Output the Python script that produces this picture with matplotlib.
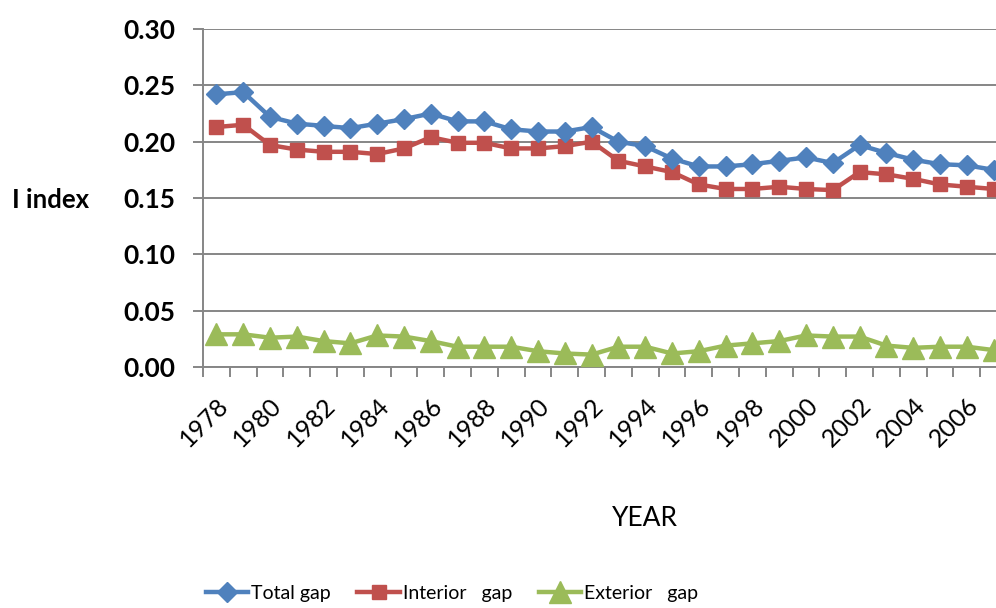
'''Gap index by year: total, interior and exterior gap'''

import numpy as np
import matplotlib
matplotlib.use('Agg')
import matplotlib.pyplot as plt
from matplotlib.ticker import FixedLocator, FormatStrFormatter

years = list(range(1978, 2008))

total_gap = [0.242, 0.244, 0.222, 0.216, 0.214, 0.212, 0.216, 0.220, 0.225, 0.218,
             0.218, 0.211, 0.209, 0.209, 0.213, 0.200, 0.196, 0.185, 0.178, 0.178,
             0.180, 0.183, 0.186, 0.181, 0.197, 0.190, 0.184, 0.180, 0.179, 0.175]

interior_gap = [0.213, 0.215, 0.197, 0.193, 0.191, 0.191, 0.189, 0.194, 0.204, 0.199,
                0.199, 0.194, 0.194, 0.196, 0.200, 0.183, 0.178, 0.173, 0.162, 0.158,
                0.158, 0.160, 0.158, 0.157, 0.173, 0.171, 0.167, 0.162, 0.160, 0.158]

exterior_gap = [0.029, 0.029, 0.026, 0.027, 0.023, 0.021, 0.028, 0.027, 0.023, 0.018,
                0.018, 0.018, 0.014, 0.012, 0.011, 0.018, 0.018, 0.012, 0.014, 0.019,
                0.021, 0.023, 0.028, 0.027, 0.027, 0.019, 0.017, 0.018, 0.018, 0.015]

series_labels = ['Total gap', 'Interior   gap', 'Exterior   gap']

BLUE = '#4F81BD'
RED = '#C0504D'
GREEN = '#9BBB59'
GRAY = '#868686'
FONT = ['Lato', 'DejaVu Sans']

fig = plt.figure(figsize=(9.96, 6.08), dpi=100)
# right edge of the plot area sits just past the picture, as in the source
ax = fig.add_axes([203 / 996, 1 - 367 / 608, 804 / 996, 338 / 608])

x = np.arange(len(years))

h1, = ax.plot(x, total_gap, color=BLUE, lw=3.2, marker='D', ms=10,
              label=series_labels[0], zorder=5, clip_on=False)
h2, = ax.plot(x, interior_gap, color=RED, lw=3.2, marker='s', ms=10.5,
              label=series_labels[1], zorder=4, clip_on=False)
h3, = ax.plot(x, exterior_gap, color=GREEN, lw=3.2, marker='^', ms=16,
              label=series_labels[2], zorder=3, clip_on=False)

ax.set_xlim(-0.5, len(years) - 0.5)
ax.set_ylim(0, 0.30)

# y axis
ax.set_yticks(np.arange(0, 0.301, 0.05))
ax.yaxis.set_major_formatter(FormatStrFormatter('%.2f'))
ax.tick_params(axis='y', direction='out', length=7, width=1.4, color=GRAY,
               pad=13, labelsize=19)
for lab in ax.get_yticklabels():
    lab.set_family(FONT)
    lab.set_fontweight('bold')
ax.yaxis.grid(True, color=GRAY, lw=1.4)
ax.set_axisbelow(True)

# x axis: tick marks between categories, labels on every other year
ax.xaxis.set_minor_locator(FixedLocator(np.arange(-0.5, len(years), 1.0)))
ax.set_xticks(x[::2])
ax.set_xticklabels([str(y) for y in years[::2]], rotation=45, ha='right',
                   rotation_mode='anchor', family=FONT, fontsize=18)
ax.tick_params(axis='x', which='major', length=0, pad=19)
ax.tick_params(axis='x', which='minor', direction='out', length=7, width=1.4,
               color=GRAY)

for side in ['top', 'right']:
    ax.spines[side].set_visible(False)
for side in ['left', 'bottom']:
    ax.spines[side].set_color(GRAY)
    ax.spines[side].set_linewidth(1.4)

fig.text(645 / 996, 1 - 518 / 608, 'YEAR', ha='center', va='center',
         fontsize=19, family=FONT)
fig.text(12 / 996, 1 - 200 / 608, 'I index', ha='left', va='center',
         fontsize=18.5, family=FONT, fontweight='bold')

fig.legend(handles=[h1, h2, h3], loc='center', ncol=3,
           bbox_to_anchor=(452 / 996, 1 - 593 / 608), frameon=False,
           prop={'family': FONT, 'size': 14},
           handlelength=2.2, handletextpad=0.15, columnspacing=1.35,
           markerscale=1.0)

fig.savefig('out.png', dpi=100)
